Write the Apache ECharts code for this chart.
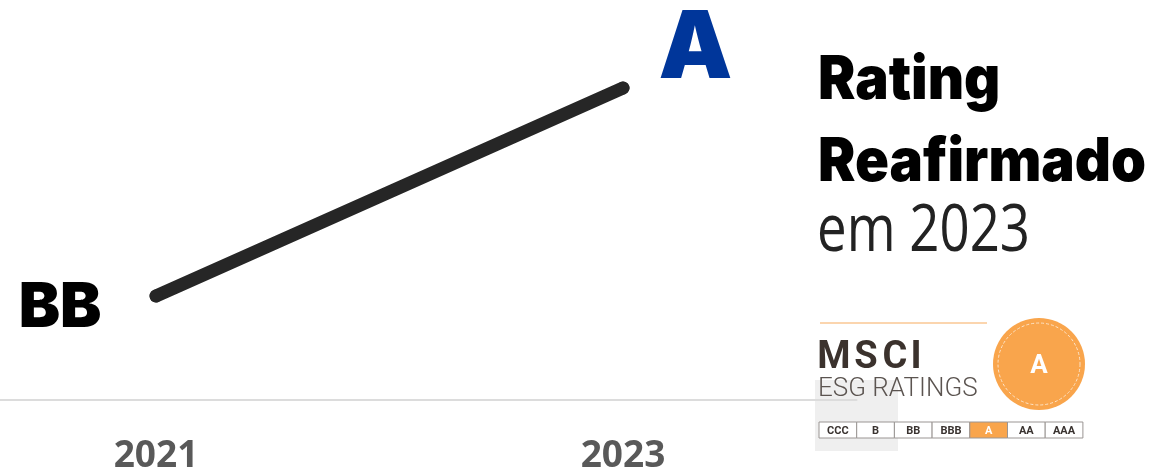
<!DOCTYPE html>
<html>
<head>
<meta charset="utf-8">
<script src="https://cdn.jsdelivr.net/npm/echarts@6/dist/echarts.min.js"></script>
<style>
html,body{margin:0;padding:0;background:#fff;}
#chart{width:1162px;height:469px;}
</style>
</head>
<body>
<div id="chart"></div>
<script>
// ---- data ----
const years = ['2021', '2023'];
const ratings = ['BB', 'A'];
const ratingScale = ['CCC', 'B', 'BB', 'BBB', 'A', 'AA', 'AAA'];
const titleLines = ['Rating', 'Reafirmado', 'em 2023'];
const logoName = ['M', 'S', 'C', 'I'];
const logoSub = 'ESG RATINGS';

const ratingIdx = ratings.map(r => ratingScale.indexOf(r));
const current = ratings[ratings.length - 1];

const labelStyles = [
  { show: true, position: 'left', distance: 48, offset: [0, 12], formatter: p => ratings[p.dataIndex],
    fontFamily: 'Inter', fontWeight: 900, fontSize: 62, color: '#000' },
  { show: true, position: 'right', distance: 29, offset: [0, -38], formatter: p => ratings[p.dataIndex],
    fontFamily: 'Inter', fontWeight: 900, fontSize: 93, color: '#00369a' }
];

const seriesData = ratingIdx.map((v, i) => ({ value: v, label: labelStyles[i] }));

// logo rating bar
const barX = 819, barY = 422, cellW = 37.7, cellH = 16;
const barEls = [];
ratingScale.forEach((r, i) => {
  const on = r === current;
  barEls.push({
    type: 'rect', z: 5,
    shape: { x: barX + i * cellW, y: barY, width: cellW, height: cellH },
    style: { fill: on ? '#f9a54c' : '#fff', stroke: '#9a9593', lineWidth: 1 }
  });
  barEls.push({
    type: 'text', z: 6,
    style: { text: r, x: barX + i * cellW + cellW / 2, y: barY + cellH / 2 + 1, textAlign: 'center', textVerticalAlign: 'middle',
      fontFamily: 'Roboto', fontWeight: 'bold', fontSize: 11, fill: on ? '#fff' : '#3a3330' }
  });
});
const logoLetterX = [834, 866, 895, 916];
const logoEls = logoName.map((c, i) => ({
  type: 'text', z: 5,
  style: { text: c, x: logoLetterX[i], y: 358, textAlign: 'center', textVerticalAlign: 'middle',
    fontFamily: 'Roboto', fontWeight: 'bold', fontSize: 38, fill: '#3b322d' }
}));

const chart = echarts.init(document.getElementById('chart'), null, { renderer: 'canvas' });
chart.setOption({
  animation: false,
  backgroundColor: '#fff',
  grid: { left: -77.5, right: 305.5, top: -16, bottom: 69, outerBoundsMode: 'none', containLabel: false },
  xAxis: {
    type: 'category', data: years, boundaryGap: true,
    axisLine: { show: true, lineStyle: { color: '#dcdcdc', width: 2 } },
    axisTick: { show: false },
    axisLabel: { margin: 38, fontFamily: 'Open Sans', fontWeight: 'bold', fontSize: 37, color: '#595959' },
    splitLine: { show: false }
  },
  yAxis: { type: 'value', min: 1, max: 5, show: false },
  series: [{
    type: 'line', data: seriesData,
    symbol: 'circle', symbolSize: 13, showSymbol: true,
    itemStyle: { color: '#262626' },
    lineStyle: { color: '#262626', width: 13, cap: 'round' },
    emphasis: { disabled: true }
  }],
  graphic: [
    { type: 'rect', z: -1, shape: { x: 815, y: 380, width: 83, height: 71 }, style: { fill: '#efefef' } },
    { type: 'text', z: 5, x: 818, y: 81, scaleX: 0.935, style: { text: titleLines[0], x: 0, y: 0, textVerticalAlign: 'middle',
        fontFamily: 'Inter', fontWeight: 900, fontSize: 60, fill: '#000' } },
    { type: 'text', z: 5, x: 818, y: 163, scaleX: 0.935, style: { text: titleLines[1], x: 0, y: 0, textVerticalAlign: 'middle',
        fontFamily: 'Inter', fontWeight: 900, fontSize: 60, fill: '#000' } },
    { type: 'text', z: 5, x: 817, y: 232, scaleX: 0.8, style: { text: titleLines[2], x: 0, y: 0, textVerticalAlign: 'middle',
        fontFamily: 'Open Sans', fontWeight: 400, fontSize: 66, fill: '#222' } },
    { type: 'line', z: 5, shape: { x1: 820, y1: 323, x2: 987, y2: 323 }, style: { stroke: '#fbd5ae', lineWidth: 2 } },
    ...logoEls,
    { type: 'text', z: 5, style: { text: logoSub, x: 818, y: 389, textVerticalAlign: 'middle',
        fontFamily: 'Roboto', fontWeight: 300, fontSize: 26, fill: '#5b5450' } },
    { type: 'circle', z: 5, shape: { cx: 1039, cy: 364, r: 46 }, style: { fill: '#f9a54c' } },
    { type: 'circle', z: 6, shape: { cx: 1039, cy: 364, r: 41 }, style: { fill: null, stroke: '#fde3c6', lineWidth: 1, lineDash: [3, 2] } },
    { type: 'text', z: 7, style: { text: current, x: 1039, y: 366, textAlign: 'center', textVerticalAlign: 'middle',
        fontFamily: 'Roboto', fontWeight: 'bold', fontSize: 26, fill: '#fff' } },
    ...barEls
  ]
});
</script>
</body>
</html>
